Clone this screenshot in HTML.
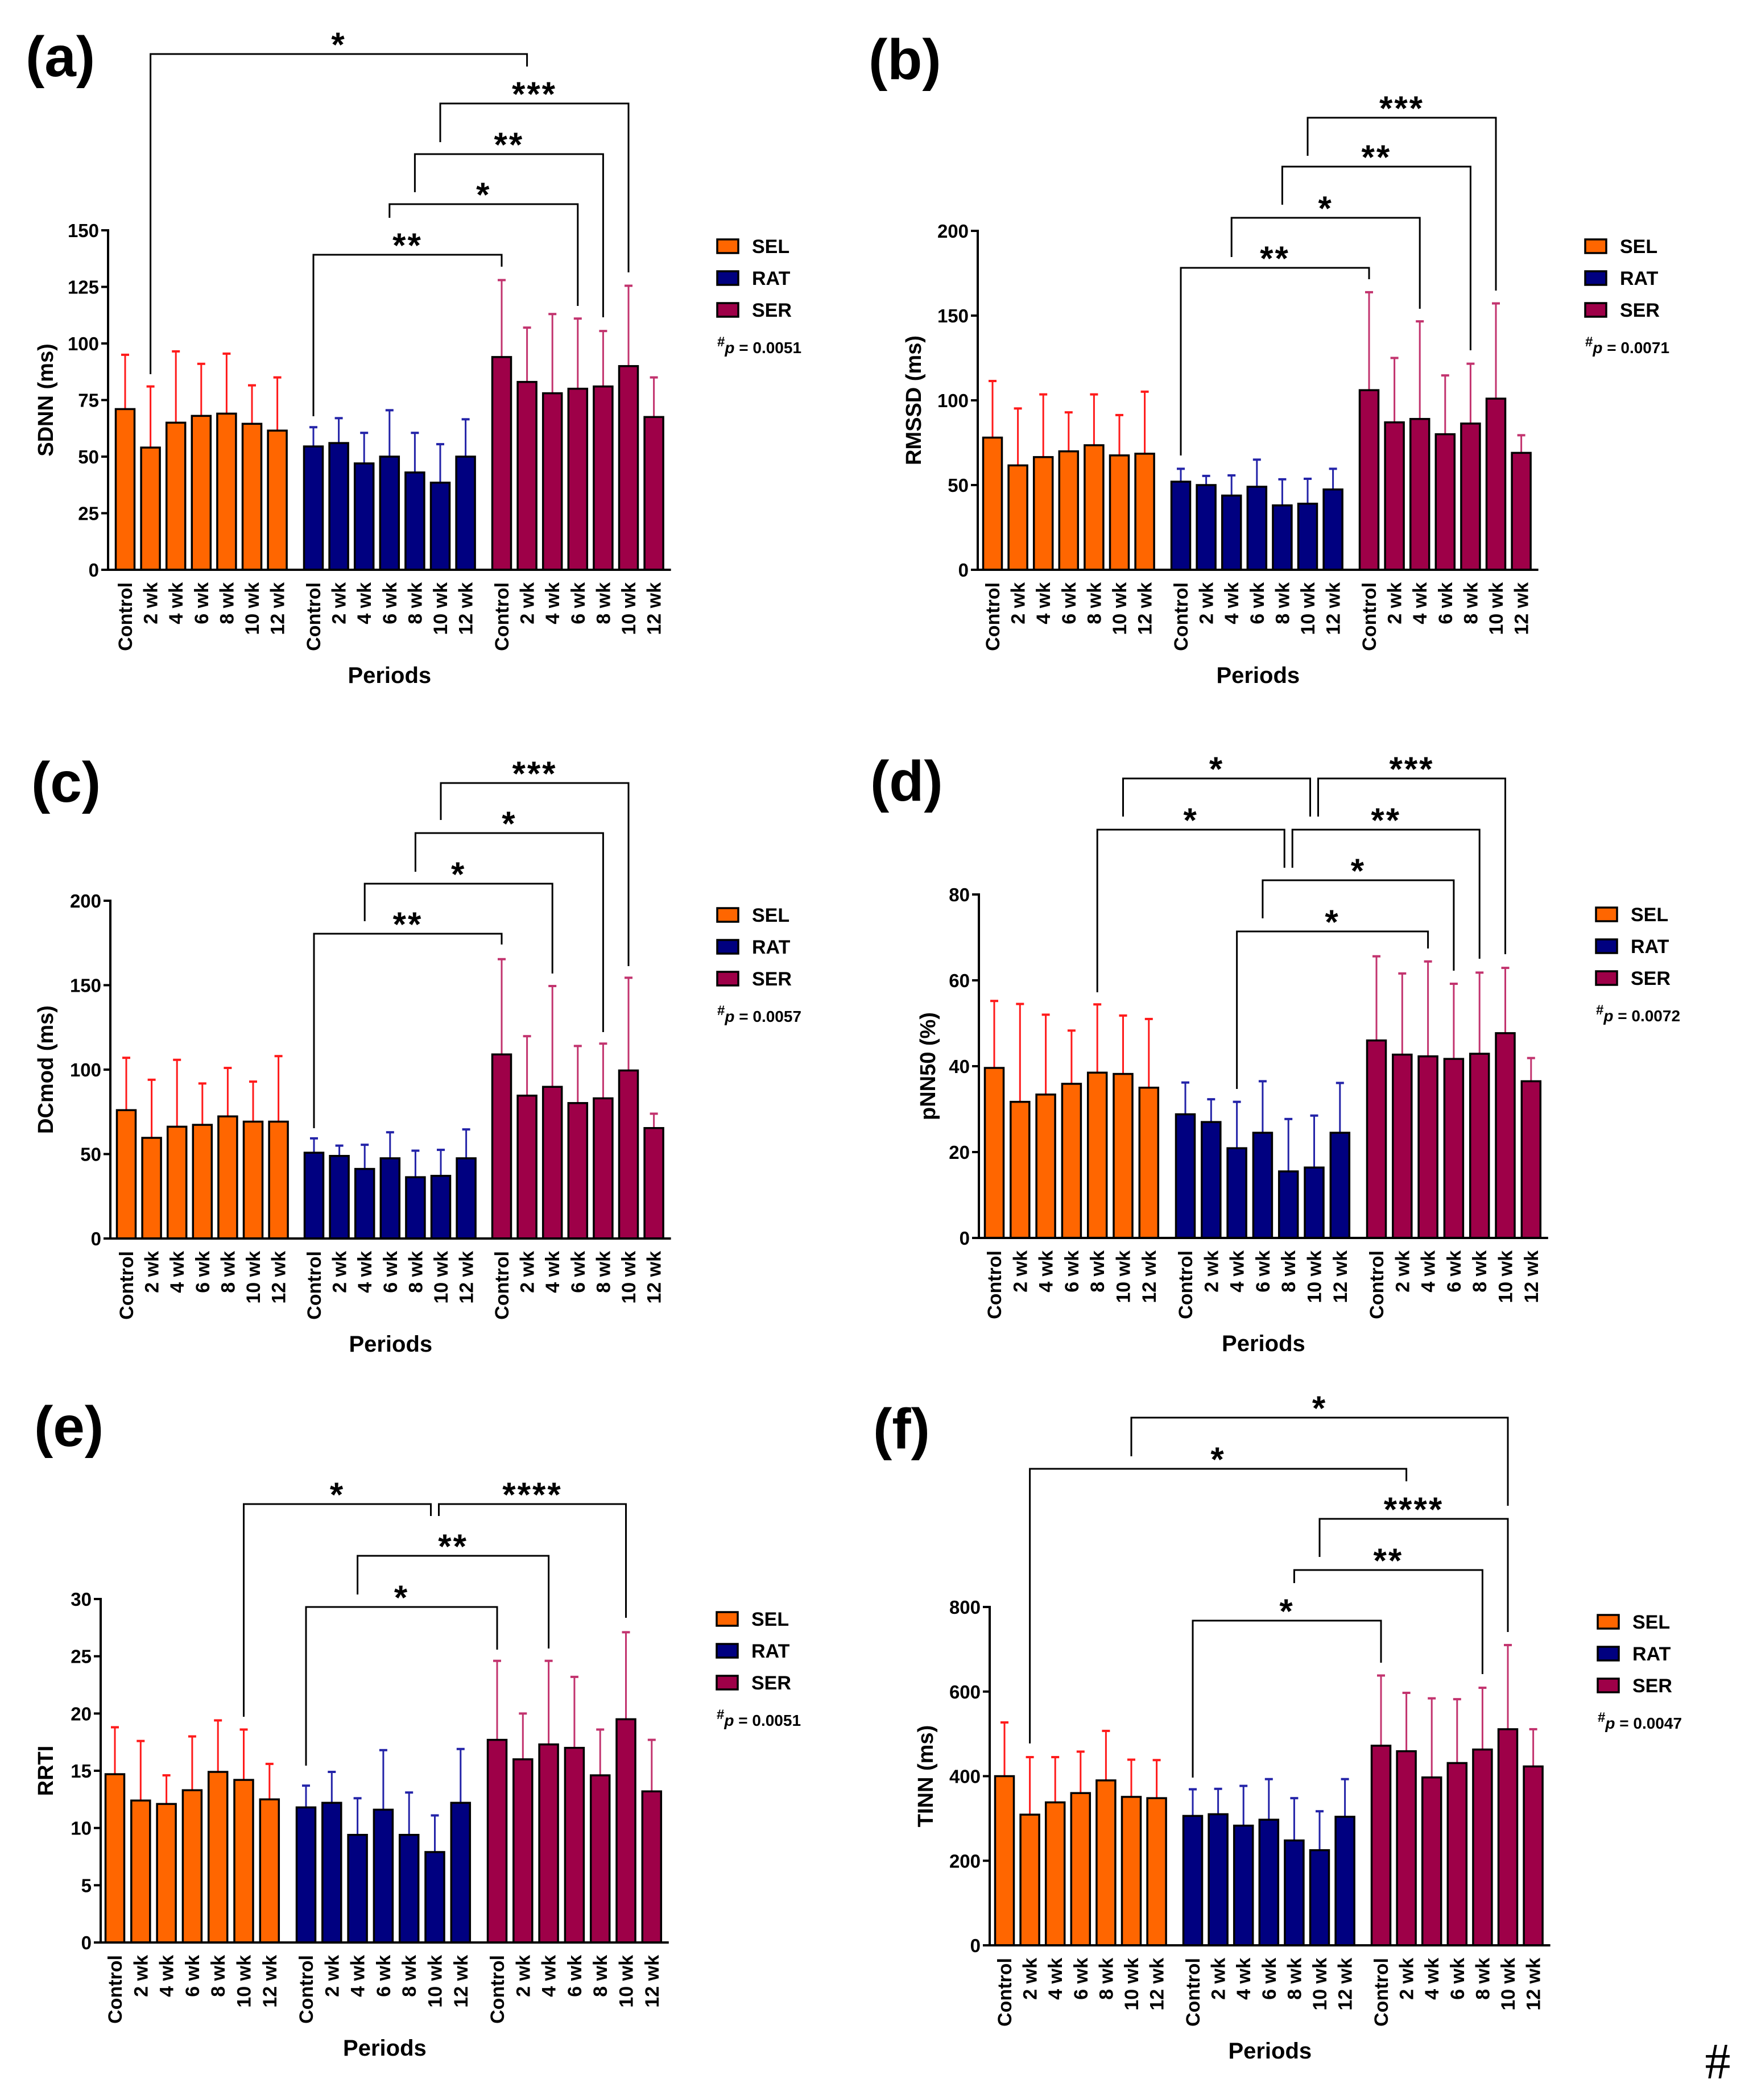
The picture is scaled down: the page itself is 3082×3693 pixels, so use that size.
<!DOCTYPE html>
<html><head><meta charset="utf-8"><title>HRV panels</title>
<style>
html,body{margin:0;padding:0;background:#fff;}
svg{display:block;}
text{font-family:"Liberation Sans",Arial,sans-serif;font-weight:bold;fill:#000;}
</style></head>
<body>
<svg id="fig" width="3082" height="3693" viewBox="0 0 3082 3693" xmlns="http://www.w3.org/2000/svg">
<rect x="0" y="0" width="3082" height="3693" fill="#fff"/>
<text x="3020" y="3655" text-anchor="middle" style="font-family:'Liberation Serif',serif;font-weight:normal;font-size:90px">#</text>
</svg>
<script>
const cats = ["Control","2 wk","4 wk","6 wk","8 wk","10 wk","12 wk"];
const groups = ["SEL","RAT","SER"];

// (a) SDNN
const aTicks = [0,25,50,75,100,125,150];
const aSEL = [71,54,65,68,69,64.5,61.5];
const aSELtop = [95,81,96.5,91,95.5,81.5,85];
const aRAT = [54.5,56,47,50,43,38.5,50];
const aRATtop = [63,67,60.5,70.5,60.5,55.5,66.5];
const aSER = [94,83,78,80,81,90,67.5];
const aSERtop = [128,107,113,111,105.5,125.5,85];

// (b) RMSSD
const bTicks = [0,50,100,150,200];
const bSEL = [78,61.6,66.5,69.9,73.5,67.5,68.5];
const bSELtop = [111.4,95.2,103.5,92.9,103.5,91.3,105.1];
const bRAT = [52,50,43.8,49,38,39,47.4];
const bRATtop = [59.6,55.4,55.7,65,53.4,53.7,59.6];
const bSER = [106,87,89,80,86.3,101,69];
const bSERtop = [163.8,125,146.6,114.7,121.6,157.2,79.4];

// (c) DCmod
const cTicks = [0,50,100,150,200];
const cSEL = [76,59.6,66.2,67.3,72.3,69.2,69.2];
const cSELtop = [107,94,105.8,91.8,101,92.9,108];
const cRAT = [50.8,48.9,41.2,47.5,36.3,37.1,47.5];
const cRATtop = [59.3,55,55.5,62.9,52,52.5,64.6];
const cSER = [109,84.6,89.8,80.2,83,99.5,65.4];
const cSERtop = [165.4,119.8,149.5,114,115.4,154.4,73.9];

// (d) pNN50
const dTicks = [0,20,40,60,80];
const dSEL = [39.6,31.7,33.4,35.9,38.5,38.2,35];
const dSELtop = [55.2,54.5,52,48.3,54.4,51.8,51];
const dRAT = [28.8,27,20.9,24.5,15.5,16.4,24.5];
const dRATtop = [36.2,32.3,31.7,36.5,27.7,28.5,36.1];
const dSER = [46,42.7,42.3,41.7,42.9,47.7,36.5];
const dSERtop = [65.6,61.6,64.4,59.2,61.8,62.9,41.9];

// (e) RRTI
const eTicks = [0,5,10,15,20,25,30];
const eSEL = [14.7,12.4,12.1,13.3,14.9,14.2,12.5];
const eSELtop = [18.8,17.6,14.6,18,19.4,18.6,15.6];
const eRAT = [11.8,12.2,9.4,11.6,9.4,7.9,12.2];
const eRATtop = [13.7,14.9,12.6,16.8,13.1,11.1,16.9];
const eSER = [17.7,16,17.3,17,14.6,19.5,13.2];
const eSERtop = [24.6,20,24.6,23.2,18.6,27.1,17.7];

// (f) TINN
const fTicks = [0,200,400,600,800];
const fSEL = [400,309,338,360,390,351,348];
const fSELtop = [527,445,445,458,507,439,438];
const fRAT = [306,310,283,297,248,225,304];
const fRATtop = [369,370,377,393,348,317,393];
const fSER = [472,459,397,431,463,511,423];
const fSERtop = [638,597,584,582,609,710,511];

const pValues = ["0.0051","0.0071","0.0057","0.0072","0.0051","0.0047"];

const panels = [
 {id:'a',label:'(a)',lx:45,ly:134,axisX:190,first:220,step:44.6,stride:331,y0:1002,span:597,max:150,ticks:aTicks,title:'SDNN (ms)',tx:80,legX:1261,p:pValues[0],
  data:[[aSEL,aSELtop],[aRAT,aRATtop],[aSER,aSERtop]],
  br:[[1,15,907,344,885,'*',0,0],[12,19,820,752,523,'***',0,0],[11,18,731,664,444,'**',0,0],[10,17,643,619,464,'*',0,0],[7,14,554,270,533,'**',0,0]]},
 {id:'b',label:'(b)',lx:1527,ly:139,axisX:1719,first:1745,step:44.6,stride:331,y0:1002,span:596,max:200,ticks:bTicks,title:'RMSSD (ms)',tx:1606,legX:2787,p:pValues[1],
  data:[[bSEL,bSELtop],[bRAT,bRATtop],[bSER,bSERtop]],
  br:[[12,19,795,728,491,'***',0,0],[11,18,709,642,386,'**',0,0],[9,16,619,550,459,'*',0,0],[7,14,531,201,511,'**',0,0]]},
 {id:'c',label:'(c)',lx:55,ly:1410,axisX:194,first:222,step:44.6,stride:330,y0:2178,span:594,max:200,ticks:cTicks,title:'DCmod (ms)',tx:80,legX:1261,p:pValues[2],
  data:[[cSEL,cSELtop],[cRAT,cRATtop],[cSER,cSERtop]],
  br:[[12,19,801,736,479,'***',0,0],[11,18,713,645,363,'*',0,0],[9,16,624,558,466,'*',0,0],[7,14,536,194,517,'**',0,0]]},
 {id:'d',label:'(d)',lx:1530,ly:1408,axisX:1721,first:1748,step:45.3,stride:336,y0:2177,span:604,max:80,ticks:dTicks,title:'pNN50 (%)',tx:1631,legX:2806,p:pValues[3],
  data:[[dSEL,dSELtop],[dRAT,dRATtop],[dSER,dSERtop]],
  br:[[5,12,808,741,741,'*',0,-7],[12,19,808,741,499,'***',7,0],[4,11,718,432,651,'*',0,-7],[11,18,718,651,491,'**',7,0],[10,17,629,562,470,'*',0,0],[9,16,539,262,509,'*',0,0]]},
 {id:'e',label:'(e)',lx:60,ly:2543,axisX:177,first:202,step:45.3,stride:336,y0:3416,span:604,max:30,ticks:eTicks,title:'RRTI',tx:80,legX:1260,p:pValues[4],
  data:[[eSEL,eSELtop],[eRAT,eRATtop],[eSER,eSERtop]],
  br:[[5,12,771,397,750,'*',0,-7],[12,19,771,750,571,'****',7,0],[9,16,680,612,517,'**',0,0],[7,14,590,311,515,'*',0,0]]},
 {id:'f',label:'(f)',lx:1535,ly:2547,axisX:1740,first:1766,step:44.6,stride:331,y0:3421,span:595,max:800,ticks:fTicks,title:'TINN (ms)',tx:1627,legX:2809,p:pValues[5],
  data:[[fSEL,fSELtop],[fRAT,fRATtop],[fSER,fSERtop]],
  br:[[5,19,928,860,773,'*',0,0],[1,15,838,355,816,'*',0,0],[12,19,750,683,551,'****',0,0],[11,18,660,637,477,'**',0,0],[7,14,571,295,497,'*',0,0]]}
];

const fills = ["#FF6600","#000080","#9E0048"];
const errCols = ["#FF1A1A","#2323A8","#C2336E"];
const NS = "http://www.w3.org/2000/svg";
const svg = document.getElementById('fig');

function mk(tag, attrs, parent, txt){
  const e = document.createElementNS(NS, tag);
  for (const k in attrs) e.setAttribute(k, attrs[k]);
  if (txt !== undefined) e.textContent = txt;
  parent.appendChild(e);
  return e;
}

panels.forEach(p => {
  const g = mk('g', {}, svg);
  
  
  const xOf = i => p.first + (i % 7) * p.step + Math.floor(i / 7) * p.stride;
  const yOf = v => p.y0 - v / p.max * p.span;

  const lab = mk('text', {x:p.lx, y:p.ly, 'font-size':100}, g, p.label);
  
  

  // bars
  p.data.forEach((pair, gi) => {
    const means = pair[0], tops = pair[1];
    means.forEach((m, k) => {
      const i = gi * 7 + k;
      const cx = xOf(i);
      const yt = yOf(m);
      const bw = 33;
      const eb = mk('g', {}, g);
      
      
      const ye = yOf(tops[k]);
      mk('line', {x1:cx, x2:cx, y1:yt, y2:ye, stroke:errCols[gi], 'stroke-width':3}, eb);
      mk('line', {x1:cx-7, x2:cx+7, y1:ye, y2:ye, stroke:errCols[gi], 'stroke-width':4}, eb);
      const r = mk('rect', {x:cx-bw/2, y:yt, width:bw, height:p.y0-yt, fill:fills[gi], stroke:'#000', 'stroke-width':3.5}, g);
      
      
      const t = mk('text', {x:0, y:0, 'font-size':34, 'text-anchor':'end', transform:'translate(' + (cx+12) + ',' + (p.y0+22) + ') rotate(-90)'}, g, cats[k]);
      
      
    });
  });

  // axes
  const lastX = xOf(20) + 30;
  const ax = mk('g', {}, g);
  
  
  mk('line', {x1:p.axisX, x2:p.axisX, y1:p.y0+2, y2:yOf(p.max)-2, stroke:'#000', 'stroke-width':4}, ax);
  p.ticks.forEach(tv => {
    const y = yOf(tv);
    mk('line', {x1:p.axisX-12, x2:p.axisX, y1:y, y2:y, stroke:'#000', 'stroke-width':4}, ax);
    const tl = mk('text', {x:p.axisX-16, y:y+12, 'font-size':33, 'text-anchor':'end'}, ax, String(tv));
    
    
  });
  const xa = mk('line', {x1:p.axisX-2, x2:lastX, y1:p.y0, y2:p.y0, stroke:'#000', 'stroke-width':4}, g);
  
  

  const yt = mk('text', {x:0, y:0, 'font-size':38, 'text-anchor':'middle', transform:'translate(' + (p.tx+13) + ',' + (p.y0 - p.span/2) + ') rotate(-90)'}, g, p.title);
  
  
  const xt = mk('text', {x:(p.axisX + lastX)/2, y:p.y0+199, 'font-size':40, 'text-anchor':'middle'}, g, 'Periods');
  
  

  // brackets
  p.br.forEach(b => {
    const bg = mk('g', {}, g);
    
    
    const x1 = xOf(b[0]) + b[6], x2 = xOf(b[1]) + b[7];
    const yl = p.y0 - b[2];
    mk('polyline', {points: x1 + ',' + (p.y0-b[3]) + ' ' + x1 + ',' + yl + ' ' + x2 + ',' + yl + ' ' + x2 + ',' + (p.y0-b[4]), fill:'none', stroke:'#000', 'stroke-width':3}, bg);
    mk('text', {x:(x1+x2)/2, y:yl+4, 'font-size':60, 'text-anchor':'middle', 'letter-spacing':3}, bg, b[5]);
  });

  // legend
  const lg = mk('g', {}, g);
  
  
  groups.forEach((nm, gi) => {
    const cy = p.y0 - 569 + gi * 56;
    const le = mk('g', {}, lg);
    
    
    mk('rect', {x:p.legX, y:cy-12, width:37, height:24, fill:fills[gi], stroke:'#000', 'stroke-width':3.5}, le);
    mk('text', {x:p.legX+61, y:cy+12, 'font-size':34}, le, nm);
  });
  const pt = mk('text', {x:p.legX, y:p.y0-381, 'font-size':28}, lg);
  
  
  mk('tspan', {'font-size':24, dy:-12}, pt, '#');
  mk('tspan', {'font-style':'italic', dy:12}, pt, 'p');
  mk('tspan', {}, pt, ' = ' + p.p);
});
</script>
</body></html>
